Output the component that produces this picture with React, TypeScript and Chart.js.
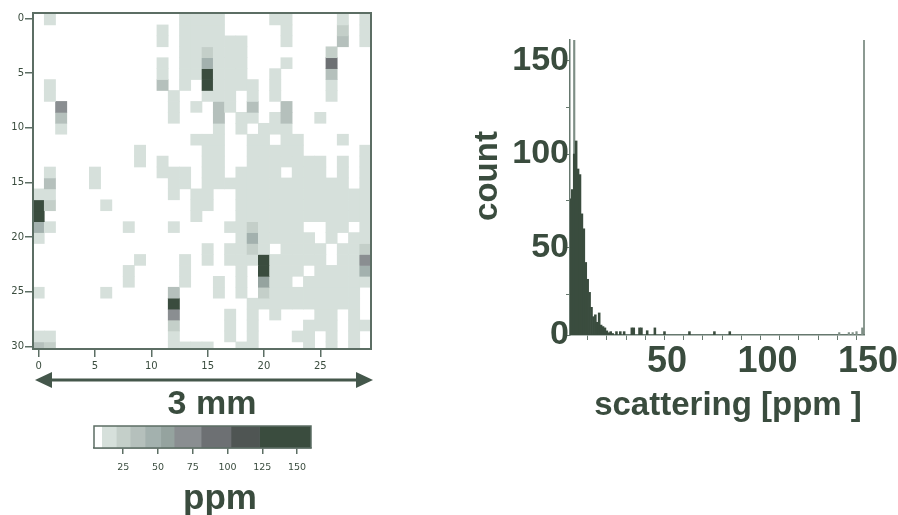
import React, { useEffect, useRef } from "react";
import { Chart, registerables } from "chart.js";

Chart.register(...registerables);

const ink = "#3a4c3e";
const axisColor = "#5c6e64";
const sans = "'Liberation Sans', Arial, sans-serif";

// Colour scale (ppm boundaries and colours of its segments)
const scaleStops = [4, 9.5, 20, 30, 40.7, 52, 61.6, 81, 102.5, 123, 160];
const scaleColors = ["#ffffff", "#d6e0db", "#c4cfc9", "#b5c0bc", "#a3b1ae", "#95a39f", "#8a8e91", "#6d7073", "#4f5553", "#3a4c3e"];
const scaleTicks = [25, 50, 75, 100, 125, 150];

// Map: level of every cell (row by row, 30 columns), 0 = below the scale
const levelPpm = [0, 15, 25, 35, 46, 57, 70, 90, 110, 140];
const heatRows = [
  "0100000000 0001111000 0110000101",
  "0000000000 0101111000 0010000201",
  "0000000000 0101111110 0010000301",
  "0000000000 0001121110 0000002000",
  "0000000000 0101141110 0010007000",
  "0000000000 0101191110 0100003000",
  "0100000000 0301091111 0100001000",
  "0100000000 0010011101 0100001000",
  "0060000000 0010103103 0030000000",
  "0030000000 0010003011 0130010000",
  "0010000000 0000001010 1110000000",
  "0000000000 0000111001 1011000100",
  "0000000001 0000011001 1111000001",
  "0000000001 0100011001 1111110101",
  "0100010000 0111011011 1101110101",
  "0300010000 0011011111 1111111101",
  "1100000000 0010110011 1111111111",
  "9200001000 0000110011 1111111111",
  "9000000000 0000100011 1111111111",
  "4100000010 0010000112 1111001101",
  "1000000000 0000000014 1111101011",
  "0000000000 0000010112 1011110112",
  "0000000001 0001010111 9111110116",
  "0000000010 0001000010 9111011114",
  "0000000010 0001001010 5110111111",
  "1000001000 0030001010 2111111110",
  "0000000000 0090000001 1111111110",
  "0000000000 0060000101 0100011010",
  "0000000000 0020000101 0000111011",
  "1100000000 0010000101 0001101010",
  "3200000000 0011110011 0000101010",
];
const heatColumns = Array.from({ length: 30 }, (_, i) => String(i));
const heatXTicks = [0, 5, 10, 15, 20, 25];
const heatYTicks = [0, 5, 10, 15, 20, 25, 30];

// Histogram
const histBins = [1, 2, 3, 4, 5, 6, 7, 8, 9, 10, 11, 12, 13, 14, 15, 16, 17, 18, 19, 20, 21, 22, 23, 25, 27, 29, 33, 34, 37, 38, 41, 45, 50, 63, 76, 84];
const histCounts = [76, 81, 100, 107, 92, 89, 68, 60, 42, 33, 26, 18, 13, 14, 10, 15, 8.5, 7.7, 7, 5.4, 4.4, 5, 4, 5, 5, 5, 7, 7, 7, 7, 5.5, 7, 5, 5, 5, 5];
const thinBins = [3, 141, 146, 148, 150, 153];
const thinCounts = [170, 4.5, 4.5, 4.5, 5, 7];
const histXTicks = [10, 20, 30, 40, 50, 60, 70, 80, 90, 100, 110, 120, 130, 140, 150];
const histYTicks = [3.2, 25, 50, 75, 100, 125, 150];
const histXLabels = [50, 100, 150];
const histYLabels = [50, 100, 150];

const noInteraction = {
  responsive: false,
  animation: false as const,
  events: [] as string[],
};
const hidden = { legend: { display: false }, tooltip: { enabled: false }, title: { display: false } };

type Txt = { text: string; x: number; y: number; size: number; rotate?: boolean };
const textPlugin = (texts: Txt[]) => ({
  id: "texts",
  afterDraw(chart: any) {
    const c = chart.ctx;
    for (const t of texts) {
      c.save();
      c.translate(t.x, t.y);
      if (t.rotate) c.rotate(-Math.PI / 2);
      c.fillStyle = ink;
      c.font = `bold ${t.size}px ${sans}`;
      c.textAlign = "center";
      c.textBaseline = "middle";
      c.fillText(t.text, 0, 0);
      c.restore();
    }
  },
});
const framePlugin = (w: number) => ({
  id: "frame",
  afterDraw(chart: any) {
    const { left, right, top, bottom } = chart.chartArea;
    const c = chart.ctx;
    c.save();
    c.strokeStyle = axisColor;
    c.lineWidth = w;
    c.strokeRect(left, top, right - left, bottom - top);
    c.restore();
  },
});
const rightSpine = {
  id: "spine",
  afterDraw(chart: any) {
    const { right, top, bottom } = chart.chartArea;
    const c = chart.ctx;
    c.save();
    c.strokeStyle = "#66786e";
    c.lineWidth = 1.5;
    c.beginPath();
    c.moveTo(right, top);
    c.lineTo(right, bottom);
    c.stroke();
    c.restore();
  },
};
const arrowPlugin = {
  id: "arrow",
  afterDraw(chart: any) {
    const { left, right } = chart.chartArea;
    const c = chart.ctx;
    const y = 380;
    const a = left + 2;
    const b = right + 2;
    c.save();
    c.fillStyle = "#44574b";
    c.fillRect(a + 8, y - 1.5, b - a - 16, 3);
    c.beginPath();
    c.moveTo(a, y); c.lineTo(a + 17, y - 8); c.lineTo(a + 17, y + 8); c.closePath();
    c.moveTo(b, y); c.lineTo(b - 17, y - 8); c.lineTo(b - 17, y + 8); c.closePath();
    c.fill();
    c.restore();
  },
};

function colorOf(ppm: number) {
  for (let i = 0; i < scaleColors.length; i++) if (ppm < scaleStops[i + 1]) return scaleColors[i];
  return scaleColors[scaleColors.length - 1];
}

const smallTick = { color: ink, font: { family: "'DejaVu Sans'", size: 10, weight: "normal" as const } };

function useChart(make: (el: HTMLCanvasElement) => Chart) {
  const ref = useRef<HTMLCanvasElement>(null);
  useEffect(() => {
    const ch = make(ref.current!);
    return () => ch.destroy();
  }, []);
  return ref;
}

function makeHeat(el: HTMLCanvasElement) {
  const rows = heatRows.map((r) => r.replace(/ /g, "").split("").map((d) => levelPpm[Number(d)]));
  return new Chart(el, {
    type: "bar",
    data: {
      labels: heatColumns,
      datasets: rows.map((row, r) => ({
        label: "row " + r,
        data: row.map((v) => (v > 0 ? [r - 0.4, r + 0.6] : null)) as any,
        backgroundColor: row.map((v) => colorOf(v)),
        borderWidth: 0,
        barPercentage: 1,
        categoryPercentage: 1,
        grouped: false,
      })),
    },
    options: {
      ...noInteraction,
      layout: { padding: { top: 13, right: 53, bottom: 0, left: 0 } },
      plugins: hidden,
      scales: {
        x: {
          type: "category",
          offset: true,
          afterBuildTicks: (s: any) => { s.ticks = heatXTicks.map((v) => ({ value: v })); },
          afterFit: (s: any) => { s.height = 76; },
          grid: { offset: false, drawOnChartArea: false, color: axisColor, tickLength: 8, lineWidth: 1.5 },
          border: { color: axisColor, width: 2 },
          ticks: { ...smallTick, autoSkip: false, maxRotation: 0, padding: 3 },
        },
        y: {
          type: "linear",
          reverse: true,
          min: -0.49,
          max: 30.25,
          afterBuildTicks: (s: any) => { s.ticks = heatYTicks.map((v) => ({ value: v })); },
          afterFit: (s: any) => { s.width = 33; },
          grid: { drawOnChartArea: false, color: axisColor, tickLength: 8, lineWidth: 1.5 },
          border: { color: axisColor, width: 2 },
          ticks: { ...smallTick, padding: 1 },
        },
      },
    },
    plugins: [framePlugin(2), arrowPlugin, textPlugin([{ text: "3 mm", x: 212, y: 405, size: 34 }])],
  } as any);
}

function makeBar(el: HTMLCanvasElement) {
  const segments = scaleColors.map((col, i) => ({
    label: "segment " + i,
    data: [[scaleStops[i], scaleStops[i + 1]]] as any,
    backgroundColor: col,
    borderWidth: 0,
    barPercentage: 1,
    categoryPercentage: 1,
    grouped: false,
  }));
  return new Chart(el, {
    type: "bar",
    data: { labels: ["ppm"], datasets: segments },
    options: {
      ...noInteraction,
      indexAxis: "y",
      layout: { padding: { top: 11, left: 94, right: 113, bottom: 0 } },
      plugins: hidden,
      scales: {
        x: {
          type: "linear",
          min: 4,
          max: 160,
          afterBuildTicks: (s: any) => { s.ticks = scaleTicks.map((v) => ({ value: v })); },
          afterFit: (s: any) => { s.height = 67; },
          grid: { drawOnChartArea: false, color: axisColor, tickLength: 6, lineWidth: 1.5 },
          border: { color: axisColor, width: 1.5 },
          ticks: { ...smallTick, font: { family: "'DejaVu Sans'", size: 9.5 }, maxRotation: 0, autoSkip: false, padding: 8 },
        },
        y: { type: "category", display: false },
      },
    },
    plugins: [framePlugin(1.5), textPlugin([{ text: "ppm", x: 220, y: 84, size: 35 }])],
  } as any);
}

function makeHist(el: HTMLCanvasElement) {
  return new Chart(el, {
    type: "bar",
    data: {
      datasets: [
        {
          label: "count",
          data: histBins.map((x, i) => ({ x, y: histCounts[i] })),
          backgroundColor: ink,
          borderWidth: 0,
          barPercentage: 1,
          categoryPercentage: 1,
          grouped: false,
          order: 1,
        },
        {
          label: "sparse bins",
          data: thinBins.map((x, i) => ({ x, y: thinCounts[i] })),
          backgroundColor: "#7f8f86",
          borderWidth: 0,
          barThickness: 1.5,
          grouped: false,
          order: 2,
        },
      ],
    },
    options: {
      ...noInteraction,
      layout: { padding: { top: 40, right: 34, bottom: 0, left: 0 } },
      plugins: hidden,
      scales: {
        x: {
          type: "linear",
          offset: false,
          min: 0.8,
          max: 153.9,
          weight: 1,
          afterBuildTicks: (s: any) => { s.ticks = histXTicks.map((v) => ({ value: v })); },
          afterFit: (s: any) => { s.height = 6; },
          grid: { offset: false, drawOnChartArea: false, color: "#66786e", tickLength: 5, lineWidth: 1 },
          border: { color: "#66786e", width: 1.5 },
          ticks: { display: false },
        },
        xLabels: {
          type: "linear",
          position: "bottom",
          offset: false,
          weight: 2,
          min: 1.7,
          max: 148,
          afterBuildTicks: (s: any) => { s.ticks = histXLabels.map((v) => ({ value: v })); },
          afterFit: (s: any) => { s.height = 89; },
          grid: { display: false },
          border: { display: false },
          ticks: {
            color: ink,
            font: { family: sans, size: 36, weight: "bold" },
            autoSkip: false,
            maxRotation: 0,
            padding: -9,
          },
        },
        y: {
          type: "linear",
          min: 3.2,
          max: 161,
          afterBuildTicks: (s: any) => { s.ticks = histYTicks.map((v) => ({ value: v })); },
          afterFit: (s: any) => { s.width = 130; },
          grid: { drawOnChartArea: false, color: "#66786e", tickLength: 4, lineWidth: 1 },
          border: { color: "#66786e", width: 1.5 },
          ticks: {
            color: ink,
            font: { family: sans, size: 34, weight: "bold" },
            autoSkip: false,
            padding: -3,
            callback: (v: number) => (v < 10 ? "0" : histYLabels.includes(v) ? String(v) : ""),
          },
        },
      },
    },
    plugins: [
      rightSpine,
      textPlugin([
        { text: "count", x: 48, y: 176, size: 33, rotate: true },
        { text: "scattering [ppm ]", x: 288, y: 406, size: 33 },
      ]),
    ],
  } as any);
}

const canvasStyle = (left: number, top: number): React.CSSProperties => ({
  position: "absolute",
  left,
  top,
  filter: "blur(0.5px)",
});

export default function App() {
  const heat = useChart(makeHeat);
  const bar = useChart(makeBar);
  const hist = useChart(makeHist);
  return (
    <div style={{ position: "fixed", left: 0, top: 0, width: 898, height: 515, background: "#fff", overflow: "hidden" }}>
      <canvas ref={heat} width={424} height={425} style={canvasStyle(0, 0)} />
      <canvas ref={bar} width={424} height={100} style={canvasStyle(0, 415)} />
      <canvas ref={hist} width={458} height={430} style={canvasStyle(440, 0)} />
    </div>
  );
}
